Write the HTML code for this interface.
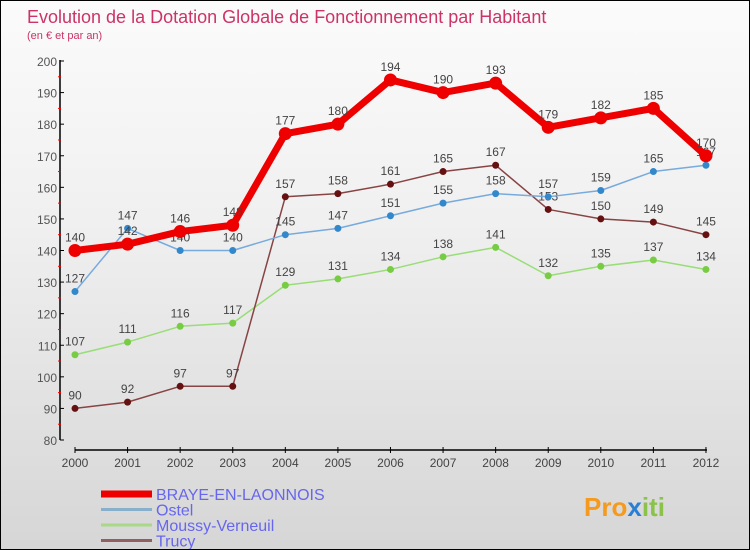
<!DOCTYPE html>
<html><head><meta charset="utf-8"><style>
body{margin:0}
#c{position:relative;width:748px;height:548px;border:1px solid #000;background:linear-gradient(#fbfbfb,#f0f0f0 40%,#d6d6d6);font-family:"Liberation Sans",sans-serif;overflow:hidden}
</style></head><body>
<div id="c">
<svg id="s" width="748" height="548" xmlns="http://www.w3.org/2000/svg" style="position:absolute;left:0;top:0">
<text x="26" y="22" font-size="18" fill="#cc3366">Evolution de la Dotation Globale de Fonctionnement par Habitant</text>
<text x="26" y="38" font-size="11" fill="#cc3366">(en € et par an)</text>
<text x="583" y="515" font-size="26" font-weight="bold" fill="#f59a1c">Pro<tspan fill="#2a7fd4">x</tspan><tspan fill="#8bc34a">iti</tspan></text>
</svg>
</div>
<script>
const years=["2000","2001","2002","2003","2004","2005","2006","2007","2008","2009","2010","2011","2012"];
const braye=[140,142,146,148,177,180,194,190,193,179,182,185,170];
const ostel=[127,147,140,140,145,147,151,155,158,157,159,165,167];
const moussy=[107,111,116,117,129,131,134,138,141,132,135,137,134];
const trucy=[90,92,97,97,157,158,161,165,167,153,150,149,145];
const yTicks=[80,90,100,110,120,130,140,150,160,170,180,190,200];
const seriesNames=["BRAYE-EN-LAONNOIS","Ostel","Moussy-Verneuil","Trucy"];
const NS="http://www.w3.org/2000/svg";
const s=document.getElementById('s');
const X=i=>74+i*52.58;
const Y=v=>439-(v-80)*(379/120);
function el(t,a,p){const e=document.createElementNS(NS,t);for(const k in a)e.setAttribute(k,a[k]);(p||s).appendChild(e);return e;}
let e=el('line',{x1:59,y1:59,x2:59,y2:439,stroke:'#000','stroke-width':1.5});

e=el('line',{x1:74,y1:449,x2:706,y2:449,stroke:'#000','stroke-width':1.5});

yTicks.forEach((v,i)=>{
 el('line',{x1:59,y1:Y(v),x2:63,y2:Y(v),stroke:'#000'});
 if(i<yTicks.length-1) el('line',{x1:57,y1:Y(v+5),x2:60,y2:Y(v+5),stroke:'#f00'});
 const t=el('text',{x:56,y:Y(v)+5,'font-size':12,fill:'#555','text-anchor':'end'});t.textContent=v;
 
});
years.forEach((y,i)=>{
 el('line',{x1:X(i),y1:446,x2:X(i),y2:452,stroke:'#000'});
 const t=el('text',{x:X(i),y:466,'font-size':12,fill:'#444','text-anchor':'middle'});t.textContent=y;
 
});
function series(d,col,dot,w,r,name){
 const g=el('g',{});
 
 el('polyline',{points:d.map((v,i)=>X(i)+','+Y(v)).join(' '),fill:'none',stroke:col,'stroke-width':w,'stroke-linejoin':'round'},g);
 d.forEach((v,i)=>{
  const c=el('circle',{cx:X(i),cy:Y(v),r:r,fill:dot},g);
  
  const t=el('text',{x:X(i),y:Y(v)-9,'font-size':12,fill:'#444','text-anchor':'middle'},g);t.textContent=v;
 });
}
series(moussy,'#99dd77','#77cc44',1.5,3.5,'series-moussy');
series(trucy,'#884444','#661111',1.5,3.5,'series-trucy');
series(ostel,'#77aadd','#3388cc',1.5,3.5,'series-ostel');
series(braye,'#ee0000','#ee0000',7,6.5,'series-braye');
const lc=['#ee0000','#88b0cc','#a8d888','#906060'],lw=[7,3,3,3];
seriesNames.forEach((n,i)=>{
 const y=493+i*15.5;
 const l=el('line',{x1:100,y1:y,x2:151,y2:y,stroke:lc[i],'stroke-width':lw[i]});
 
 const t=el('text',{x:155,y:y+6,'font-size':16,fill:'#6666ee'});t.textContent=n;
 
});
</script>
</body></html>
